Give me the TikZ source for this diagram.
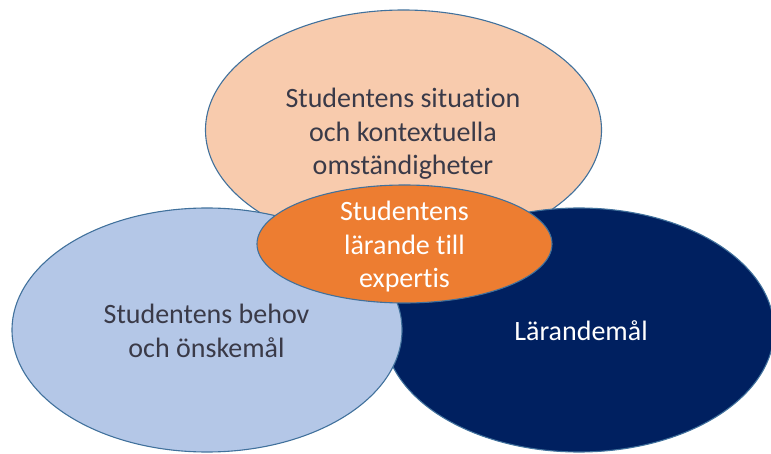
\documentclass[tikz,border=0pt]{standalone}
\usepackage{fontspec}
\setmainfont{Carlito}[Ligatures={NoCommon}]
\usetikzlibrary{shapes.geometric}
\definecolor{peach}{HTML}{F8CBAD}
\definecolor{lblue}{HTML}{B4C7E7}
\definecolor{navy}{HTML}{002060}
\definecolor{orng}{HTML}{ED7D31}
\definecolor{edgec}{HTML}{41719C}
\definecolor{dtext}{HTML}{3A3A48}
\begin{document}
\begin{tikzpicture}[x=1pt,y=-1pt,
  blob/.style={ellipse, draw=edgec, line width=1.1pt, inner sep=0pt},
  lbl/.style={align=center, font=\fontsize{28}{33.5}\selectfont, inner sep=0pt}]
\useasboundingbox (0,0) rectangle (771,454);
\node[blob, fill=peach, minimum width=396pt, minimum height=240pt] (top) at (403.5,130) {};
\node[blob, fill=navy, minimum width=390pt, minimum height=244pt] (right) at (579,330) {};
\node[blob, fill=lblue, minimum width=390pt, minimum height=244pt] (left) at (207,330) {};
\node[blob, fill=orng, minimum width=295pt, minimum height=118pt] (mid) at (404.5,244) {};
\node[lbl, text=dtext] (toptext) at (403,134) {Studentens situation\\och kontextuella\\omständigheter};
\node[lbl, text=dtext] (lefttext) at (206.5,331) {Studentens behov\\och önskemål};
\node[lbl, text=white] (righttext) at (581,331) {Lärandemål};
\node[lbl, text=white] (midtext) at (404.5,247) {Studentens\\lärande till\\expertis};
\end{tikzpicture}
\end{document}
